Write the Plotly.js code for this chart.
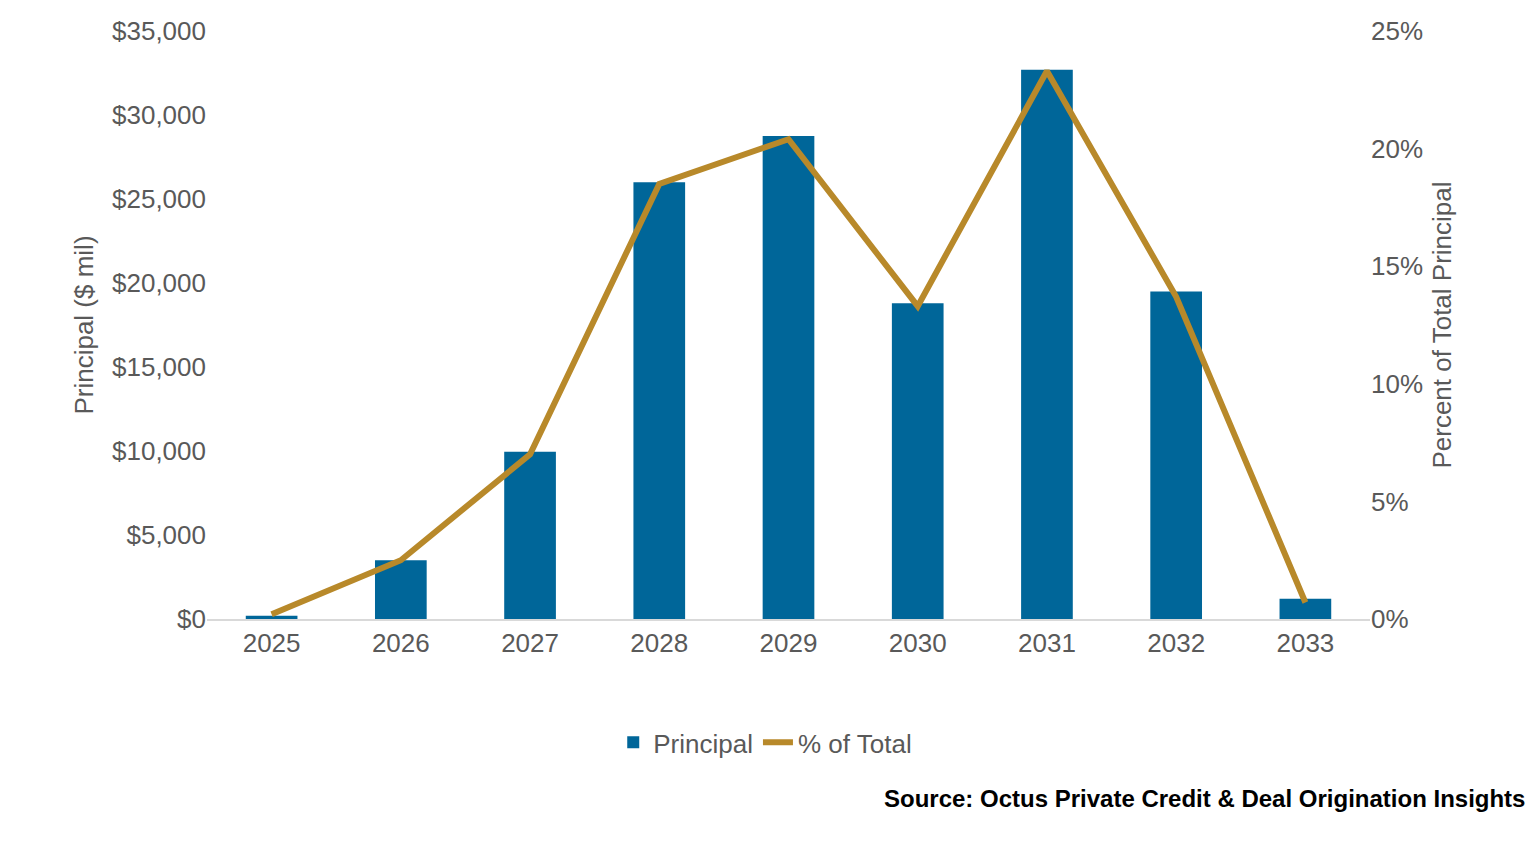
<!DOCTYPE html>
<html>
<head>
<meta charset="utf-8">
<script src="https://cdn.plot.ly/plotly-3.0.1.min.js"></script>
<style>body{margin:0;background:#fff}#plt{width:1534px;height:854px}</style>
</head>
<body>
<div id="plt"></div>
<script>
var years = ['2025', '2026', '2027', '2028', '2029', '2030', '2031', '2032', '2033'];
var principal = [200, 3500, 9950, 26000, 28750, 18800, 32700, 19500, 1200];
var pctTotal = [0.2, 2.5, 7.0, 18.5, 20.4, 13.3, 23.3, 13.7, 0.7];

var grey = '#595959';
var fnt = {family: 'Liberation Sans, Arial, sans-serif', size: 26, color: grey};

var d = [{
    type: 'bar',
    name: 'Principal',
    x: years,
    y: principal,
    marker: {color: '#006699'},
    width: 0.4
}, {
    type: 'scatter',
    mode: 'lines',
    name: '% of Total',
    x: years,
    y: pctTotal,
    yaxis: 'y2',
    line: {color: '#B8892A', width: 6}
}];

var l = {
    width: 1534,
    height: 854,
    margin: {l: 207, r: 164, t: 31, b: 235},
    font: fnt,
    showlegend: true,
    legend: {orientation: 'h', x: 0.48, xanchor: 'center', y: -0.17, yanchor: 'top', font: fnt},
    xaxis: {showline: true, linecolor: '#d9d9d9', linewidth: 2, ticks: '', tickfont: fnt},
    yaxis: {
        range: [0, 35000], dtick: 5000, tickprefix: '$', tickformat: ',d',
        showgrid: false, zeroline: false, tickfont: fnt,
        title: {text: 'Principal ($ mil)', font: fnt, standoff: 10}
    },
    yaxis2: {
        overlaying: 'y', side: 'right', range: [0, 25], dtick: 5, ticksuffix: '%',
        showgrid: false, zeroline: false, tickfont: fnt,
        title: {text: 'Percent of Total Principal', font: fnt, standoff: 10}
    },
    annotations: [{
        xref: 'paper', yref: 'paper', x: 1.135, y: -0.305, xanchor: 'right', yanchor: 'middle',
        showarrow: false, text: '<b>Source: Octus Private Credit & Deal Origination Insights</b>',
        font: {family: 'Liberation Sans, Arial, sans-serif', size: 24, color: '#000'}
    }]
};

Plotly.newPlot(document.getElementById('plt'), d, l, {displayModeBar: false});
</script>
</body>
</html>
